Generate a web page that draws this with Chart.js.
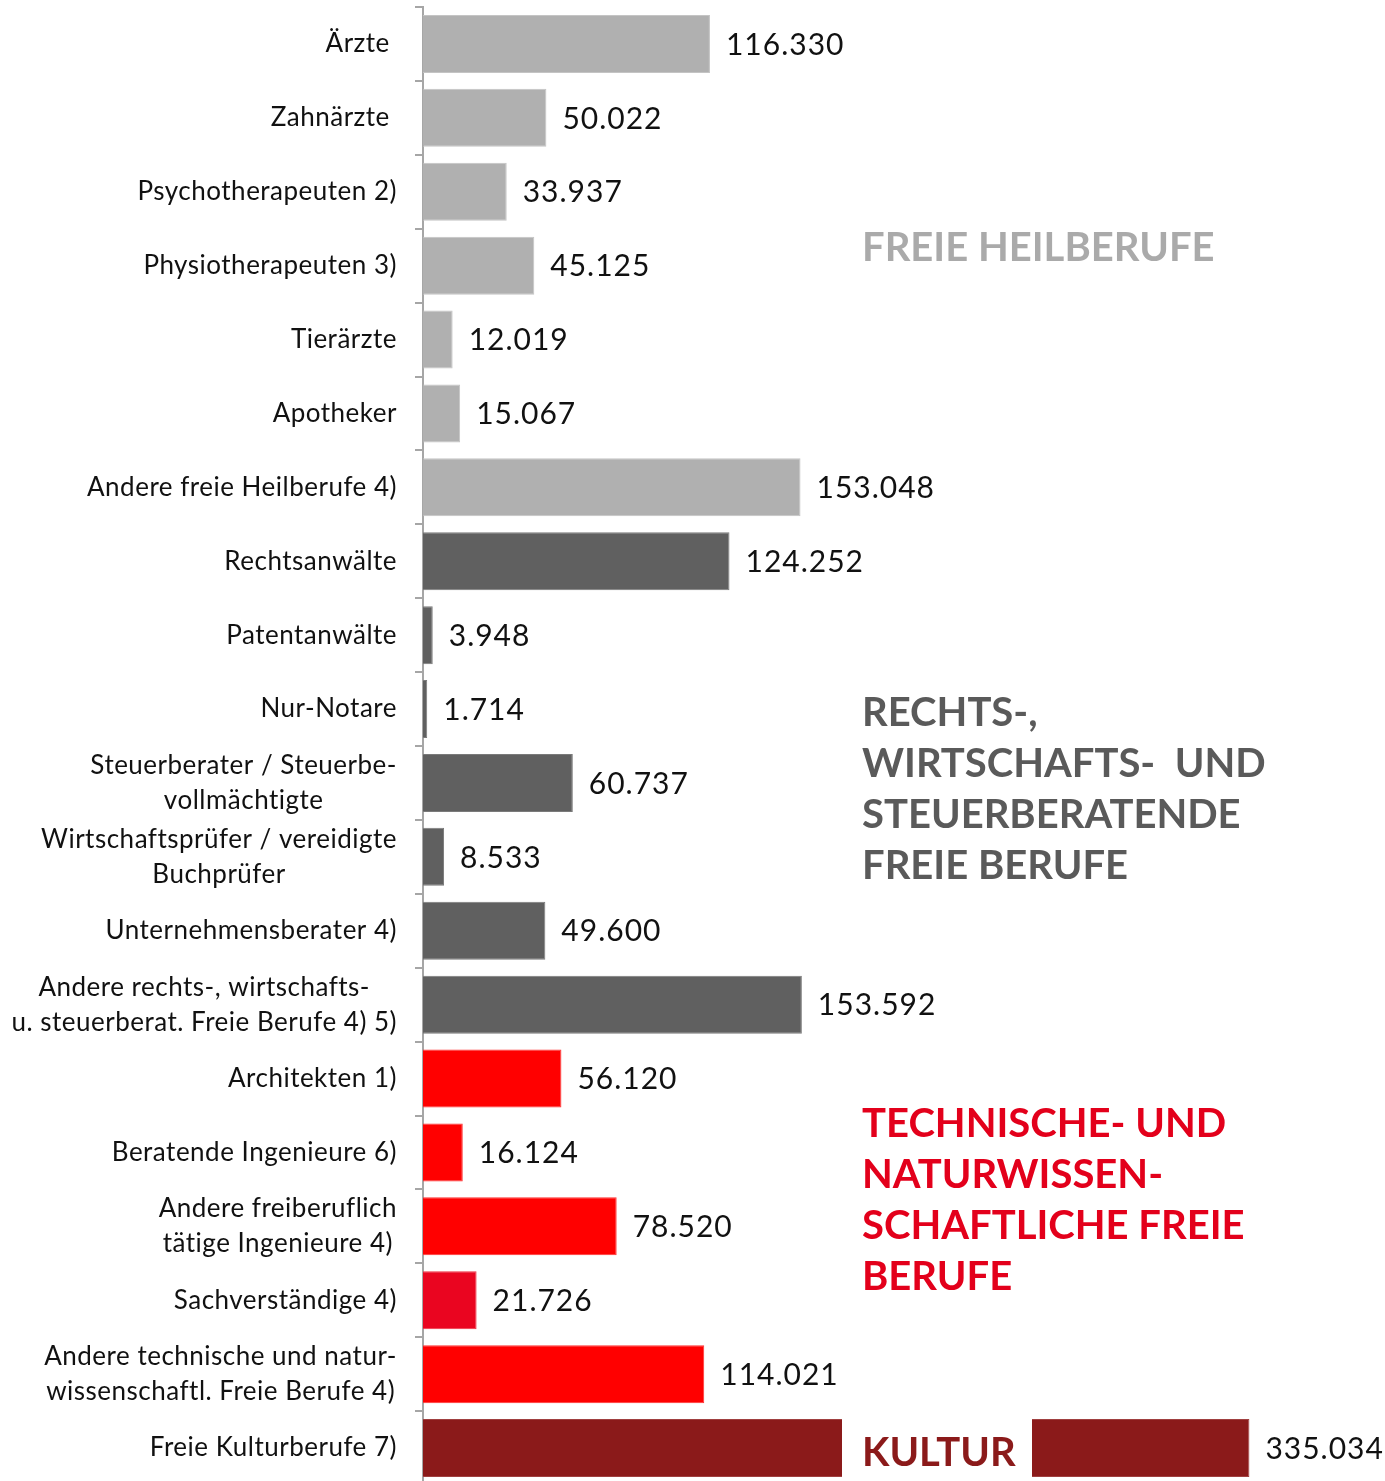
<!DOCTYPE html>
<html>
<head>
<meta charset="utf-8">
<script src="https://cdn.jsdelivr.net/npm/chart.js@4/dist/chart.umd.min.js"></script>
<style>
  html, body { margin: 0; padding: 0; background: #fff; overflow: hidden; }
  #chart { display: block; }
</style>
</head>
<body>
<canvas id="chart" width="1385" height="1490" style="width:1385px;height:1490px"></canvas>
<script>
// categories (multi-line labels)
const categories = [
    ["Ärzte "], ["Zahnärzte "], ["Psychotherapeuten 2)"], ["Physiotherapeuten 3)"],
    ["Tierärzte"], ["Apotheker"], ["Andere freie Heilberufe 4)"],
    ["Rechtsanwälte"], ["Patentanwälte"], ["Nur-Notare"],
    ["Steuerberater / Steuerbe-", "vollmächtigte"],
    ["Wirtschaftsprüfer / vereidigte", "Buchprüfer"],
    ["Unternehmensberater 4)"],
    ["Andere rechts-, wirtschafts-", "u. steuerberat. Freie Berufe 4) 5)"],
    ["Architekten 1)"], ["Beratende Ingenieure 6)"],
    ["Andere freiberuflich", "tätige Ingenieure 4)"],
    ["Sachverständige 4)"],
    ["Andere technische und natur-", "wissenschaftl. Freie Berufe 4)"],
    ["Freie Kulturberufe 7)"]
];
const values = [116330, 50022, 33937, 45125, 12019, 15067, 153048,
    124252, 3948, 1714, 60737, 8533, 49600, 153592,
    56120, 16124, 78520, 21726, 114021,
    335034];
const barColors = [
    "#b0b0b0", "#b0b0b0", "#b0b0b0", "#b0b0b0", "#b0b0b0", "#b0b0b0", "#b0b0b0",
    "#606060", "#606060", "#606060", "#606060", "#606060", "#606060", "#606060",
    "#ff0000", "#ff0000", "#ff0000", "#ea0520", "#ff0000",
    "#8b1a1a"
];
const borderColors = [
    "#c4c4c4", "#c4c4c4", "#c4c4c4", "#c4c4c4", "#c4c4c4", "#c4c4c4", "#c4c4c4",
    "#7a7a7a", "#7a7a7a", "#7a7a7a", "#7a7a7a", "#7a7a7a", "#7a7a7a", "#7a7a7a",
    "#ff3030", "#ff3030", "#ff3030", "#f03040", "#ff3030",
    "#a04040"
];

const FONT = "Lato, 'Open Sans', sans-serif";

function fmt(v) {
    return String(v).replace(/\B(?=(\d{3})+(?!\d))/g, ".");
}

// category labels, value labels and group titles
const annotate = {
    id: "annotate",
    afterDatasetsDraw(chart) {
        const ctx = chart.ctx;
        const y = chart.scales.y;
        const meta = chart.getDatasetMeta(0);
        ctx.save();

        // category labels: block right-aligned, lines centered
        ctx.font = "26px " + FONT;
        ctx.letterSpacing = "0.5px";
        ctx.fillStyle = "#111";
        ctx.textBaseline = "middle";
        ctx.textAlign = "center";
        const right = 397;
        const lh = 35;
        categories.forEach((lines, i) => {
            const cy = y.getPixelForValue(i);
            const w = Math.max(...lines.map(l => ctx.measureText(l).width));
            const cx = right - w / 2;
            lines.forEach((l, j) => {
                ctx.fillText(l, cx, cy + (j - (lines.length - 1) / 2) * lh);
            });
        });

        // gap in the Kultur bar
        const last = meta.data[values.length - 1];
        ctx.fillStyle = "#fff";
        ctx.fillRect(842, last.y - last.height / 2 - 2, 190, last.height + 4);

        // value labels
        ctx.font = "30px " + FONT;
        ctx.letterSpacing = "1px";
        ctx.fillStyle = "#111";
        ctx.textAlign = "left";
        meta.data.forEach((bar, i) => {
            ctx.fillText(fmt(values[i]), bar.x + 16, bar.y + 1);
        });

        // group titles
        ctx.font = "bold 40px " + FONT;
        ctx.letterSpacing = "0px";
        ctx.textBaseline = "middle";
        const groups = [
            { lines: ["FREIE HEILBERUFE"], color: "#aaaaaa", top: 248 },
            { lines: ["RECHTS-,", "WIRTSCHAFTS-  UND", "STEUERBERATENDE", "FREIE BERUFE"], color: "#5a5a5a", top: 713 },
            { lines: ["TECHNISCHE- UND", "NATURWISSEN-", "SCHAFTLICHE FREIE", "BERUFE"], color: "#e3001b", top: 1124 },
            { lines: ["KULTUR"], color: "#8b1a1a", top: 1453 }
        ];
        groups.forEach(g => {
            ctx.fillStyle = g.color;
            g.lines.forEach((l, j) => ctx.fillText(l, 862, g.top + j * 51));
        });
        ctx.restore();
    }
};

new Chart(document.getElementById("chart"), {
    type: "bar",
    data: {
        labels: categories,
        datasets: [{
            data: values,
            backgroundColor: barColors,
            borderColor: borderColors,
            borderWidth: 1,
            borderSkipped: "start",
            categoryPercentage: 1,
            barPercentage: 0.785
        }]
    },
    options: {
        indexAxis: "y",
        responsive: false,
        animation: false,
        devicePixelRatio: 1,
        layout: { padding: { top: 7, bottom: 5, left: 0, right: 0 } },
        plugins: {
            legend: { display: false },
            tooltip: { enabled: false }
        },
        scales: {
            x: {
                display: false,
                min: 0,
                max: 390000
            },
            y: {
                afterFit(scale) { scale.width = 423; },
                ticks: { display: false },
                grid: {
                    drawOnChartArea: false,
                    drawTicks: true,
                    tickLength: 8,
                    color: "#a6a6a6",
                    lineWidth: 2
                },
                border: { color: "#a6a6a6", width: 2 }
            }
        }
    },
    plugins: [annotate]
});
</script>
</body>
</html>
